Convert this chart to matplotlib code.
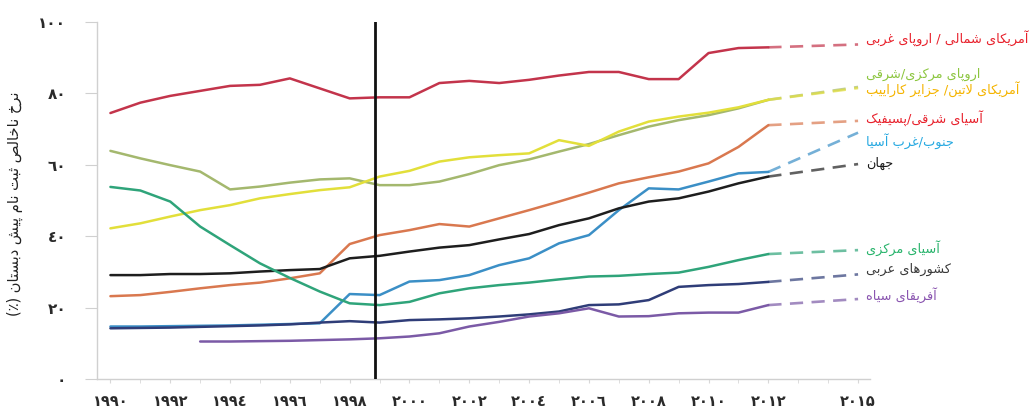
import numpy as np
import matplotlib
matplotlib.use("Agg")
import matplotlib.pyplot as plt
from matplotlib.ticker import FixedLocator

# سال ها و داده ها
years = list(range(1990, 2013))
proj_year = 2015

na_we = [74.5, 77.4, 79.3, 80.7, 82.1, 82.4, 84.2, 81.4, 78.6, 78.9, 78.9, 82.9, 83.5,
         82.9, 83.8, 85.0, 86.0, 86.0, 84.0, 84.0, 91.3, 92.7, 92.9]
cee = [63.9, 61.8, 59.9, 58.1, 53.1, 53.9, 55.0, 55.9, 56.2, 54.3, 54.3, 55.3, 57.4,
       59.9, 61.5, 63.7, 65.8, 68.3, 70.7, 72.5, 73.9, 75.8, 78.2]
latin = [42.2, 43.6, 45.5, 47.3, 48.7, 50.6, 51.8, 52.9, 53.7, 56.7, 58.3, 60.9, 62.1,
         62.7, 63.2, 66.9, 65.3, 69.3, 72.1, 73.5, 74.6, 76.1, 78.2]
east_asia = [23.2, 23.5, 24.4, 25.4, 26.3, 27.0, 28.2, 29.6, 37.8, 40.3, 41.7, 43.4, 42.7,
             45.0, 47.3, 49.7, 52.2, 54.8, 56.5, 58.1, 60.4, 65.0, 71.1]
sw_asia = [14.7, 14.7, 14.8, 14.9, 15.0, 15.2, 15.4, 15.6, 23.8, 23.5, 27.3, 27.7, 29.1,
           31.9, 33.8, 38.0, 40.3, 47.3, 53.4, 53.1, 55.3, 57.6, 58.0]
world = [29.1, 29.1, 29.4, 29.4, 29.6, 30.1, 30.5, 30.8, 33.8, 34.5, 35.7, 36.8, 37.5,
         39.1, 40.6, 43.1, 45.0, 47.8, 49.7, 50.6, 52.5, 54.8, 56.7]
c_asia = [53.8, 52.8, 49.7, 42.7, 37.5, 32.4, 28.3, 24.5, 21.2, 20.7, 21.6, 24.0, 25.4,
          26.3, 27.0, 27.9, 28.7, 28.9, 29.4, 29.8, 31.4, 33.3, 35.0]
arab = [14.2, 14.3, 14.4, 14.6, 14.8, 15.0, 15.3, 15.8, 16.2, 15.8, 16.5, 16.7, 17.0,
        17.5, 18.1, 18.9, 20.7, 20.9, 22.1, 25.8, 26.3, 26.6, 27.2]
ssa = [np.nan, np.nan, np.nan, 10.5, 10.5, 10.6, 10.7, 10.9, 11.1, 11.4, 11.9, 12.8, 14.7,
       16.0, 17.5, 18.4, 19.8, 17.5, 17.6, 18.4, 18.6, 18.6, 20.7]

# پیش بینی ۲۰۱۵
proj = [93.7, 81.8, 81.5, 72.3, 69.0, 60.2, 36.1, 29.3, 22.4]

names = ["آمریکای شمالی / اروپای غربی", "اروپای مرکزی/شرقی", "آمریکای لاتین/ جزایر کاراییب",
         "آسیای شرقی/پسیفیک", "جنوب/غرب آسیا", "جهان", "آسیای مرکزی", "کشورهای عربی",
         "آفریقای سیاه"]
series = [na_we, cee, latin, east_asia, sw_asia, world, c_asia, arab, ssa]
line_colors = ["#c3344b", "#a4b86e", "#e2df3a", "#d9784f", "#3b8fc6", "#1e1e1e",
               "#2fa47a", "#2f3d78", "#7b5aa6"]
label_colors = ["#e8212c", "#8cc63f", "#f5b400", "#e8212c", "#27a9e1", "#1a1a1a",
                "#27b36b", "#3a3a3a", "#8a55b0"]
label_y_px = [38, 74, 89, 118, 141, 163, 248, 269, 295]

ylabel = "نرخ ناخالص ثبت نام پیش دبستان (٪)"
xtick_years = [1990, 1992, 1994, 1996, 1998, 2000, 2002, 2004, 2006, 2008, 2010, 2012, 2015]
ytick_vals = [0, 20, 40, 60, 80, 100]
marker_year = 1998.85

# شکل دهی ساده حروف فارسی (بدون arabic_reshaper)
FORMS = {
    'ا': (0xFE8D, 0xFE8E, None, None), 'آ': (0xFE81, 0xFE82, None, None),
    'ب': (0xFE8F, 0xFE90, 0xFE91, 0xFE92), 'پ': (0xFB56, 0xFB57, 0xFB58, 0xFB59),
    'ت': (0xFE95, 0xFE96, 0xFE97, 0xFE98), 'ث': (0xFE99, 0xFE9A, 0xFE9B, 0xFE9C),
    'ج': (0xFE9D, 0xFE9E, 0xFE9F, 0xFEA0), 'خ': (0xFEA5, 0xFEA6, 0xFEA7, 0xFEA8),
    'د': (0xFEA9, 0xFEAA, None, None), 'ر': (0xFEAD, 0xFEAE, None, None),
    'ز': (0xFEAF, 0xFEB0, None, None), 'س': (0xFEB1, 0xFEB2, 0xFEB3, 0xFEB4),
    'ش': (0xFEB5, 0xFEB6, 0xFEB7, 0xFEB8), 'ص': (0xFEB9, 0xFEBA, 0xFEBB, 0xFEBC),
    'ع': (0xFEC9, 0xFECA, 0xFECB, 0xFECC), 'غ': (0xFECD, 0xFECE, 0xFECF, 0xFED0),
    'ف': (0xFED1, 0xFED2, 0xFED3, 0xFED4), 'ق': (0xFED5, 0xFED6, 0xFED7, 0xFED8),
    'ک': (0xFB8E, 0xFB8F, 0xFB90, 0xFB91), 'ل': (0xFEDD, 0xFEDE, 0xFEDF, 0xFEE0),
    'م': (0xFEE1, 0xFEE2, 0xFEE3, 0xFEE4), 'ن': (0xFEE5, 0xFEE6, 0xFEE7, 0xFEE8),
    'ه': (0xFEE9, 0xFEEA, 0xFEEB, 0xFEEC), 'و': (0xFEED, 0xFEEE, None, None),
    'ی': (0xFBFC, 0xFBFD, 0xFBFE, 0xFBFF),
}
MIRROR = {'(': ')', ')': '('}


def fa(text):
    out = []
    n = len(text)
    i = 0
    while i < n:
        c = text[i]
        prev = text[i - 1] if i > 0 else ''
        joins_prev = prev in FORMS and FORMS[prev][2] is not None
        if c == 'ل' and i + 1 < n and text[i + 1] in ('ا', 'آ'):
            if text[i + 1] == 'ا':
                out.append(chr(0xFEFC if joins_prev else 0xFEFB))
            else:
                out.append(chr(0xFEF6 if joins_prev else 0xFEF5))
            i += 2
            continue
        if c in FORMS:
            f = FORMS[c]
            nxt = text[i + 1] if i + 1 < n else ''
            joins_next = f[2] is not None and nxt in FORMS
            if joins_prev and joins_next:
                out.append(chr(f[3]))
            elif joins_prev:
                out.append(chr(f[1]))
            elif joins_next:
                out.append(chr(f[2]))
            else:
                out.append(chr(f[0]))
        else:
            out.append(MIRROR.get(c, c))
        i += 1
    return ''.join(reversed(out))


DIGITS = str.maketrans('0123456789', '٠١٢٣٤۵٦٧٨٩')


def num(v):
    return str(v).translate(DIGITS)


plt.rcParams['font.family'] = ['DejaVu Sans']

fig = plt.figure(figsize=(10.36, 4.08), dpi=100)
ax = fig.add_axes([0.0936, 0.0711, 0.7462, 0.875])

for vals, p, col in zip(series, proj, line_colors):
    ax.plot(years, vals, color=col, lw=1.8, solid_capstyle='round', zorder=3)
    ax.plot([years[-1], proj_year], [vals[-1], p], color=col, lw=1.9, alpha=0.7,
            dashes=(5, 3.2), zorder=3)

ax.axvline(marker_year, color='#111111', lw=2.0, zorder=4)

ax.set_xlim(1989.55, 2015.4)
ax.set_ylim(0, 100)

ax.xaxis.set_major_locator(FixedLocator(xtick_years))
ax.xaxis.set_minor_locator(FixedLocator(list(range(1990, 2016))))
ax.set_xticklabels([num(y) for y in xtick_years], fontsize=10.5, fontweight='bold',
                   color='#2a2a2a')
ax.set_yticks(ytick_vals)
ax.set_yticklabels([num(v) for v in ytick_vals], fontsize=11, fontweight='bold',
                   color='#2a2a2a')
ax.tick_params(axis='y', length=9, color='#d0d0d0', pad=13)
ax.tick_params(axis='x', which='both', length=3, color='#d8d8d8', pad=8)

for s in ['top', 'right']:
    ax.spines[s].set_visible(False)
for s in ['left', 'bottom']:
    ax.spines[s].set_color('#d0d0d0')
    ax.spines[s].set_linewidth(1.0)

for name, col, ypx in zip(names, label_colors, label_y_px):
    fig.text(866 / 1036, 1 - ypx / 408, fa(name), color=col, fontsize=9.3,
             ha='left', va='center')

fig.text(15 / 1036, 0.5, fa(ylabel), rotation=90, fontsize=10.5, color='#222222',
         ha='center', va='center')

fig.savefig('out.png', dpi=100)
